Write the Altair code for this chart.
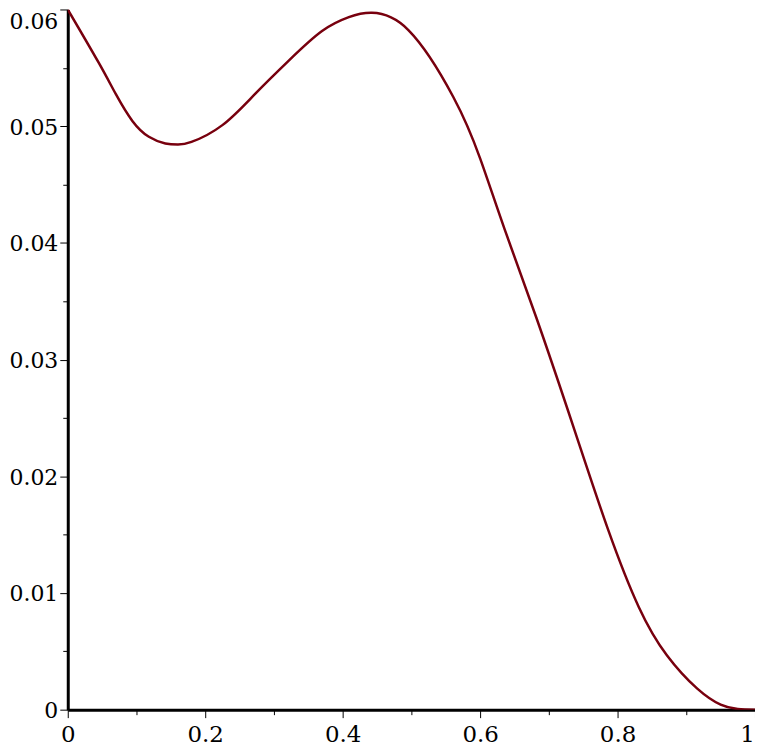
import altair as alt
import pandas as pd

xs = [0, 0.045, 0.070, 0.094, 0.118, 0.142, 0.160, 0.180, 0.225, 0.273,
      0.322, 0.370, 0.409, 0.4425, 0.496, 0.561, 0.600, 0.636, 0.682, 0.737,
      0.786, 0.831, 0.872, 0.916, 0.950, 0.975, 1.0]
ys = [0.0600, 0.05544, 0.05274, 0.05045, 0.04909, 0.04852, 0.04842, 0.04865, 0.05009, 0.05279,
      0.05564, 0.05815, 0.05934, 0.05971, 0.05821, 0.0525, 0.04724, 0.04111, 0.03356, 0.02402,
      0.01547, 0.00878, 0.00464, 0.0018, 0.00043, 0.00006, 0.0]

x_ticks = [0, 0.1, 0.2, 0.3, 0.4, 0.5, 0.6, 0.7, 0.8, 0.9, 1.0]
y_ticks = [0, 0.005, 0.01, 0.015, 0.02, 0.025, 0.03, 0.035, 0.04, 0.045, 0.05, 0.055, 0.06]

df = pd.DataFrame({"x": xs, "y": ys})

FONT = "DejaVu Serif"

x_axis = alt.Axis(
    values=x_ticks,
    labelExpr="abs(datum.value*5 - round(datum.value*5)) > 0.01 ? '' : format(datum.value, '.1~f')",
    labelOverlap=False,
    labelFont=FONT, labelFontSize=23, labelColor="black",
    labelPadding=6, labelFlush=False,
    labelOffset={"condition": {"test": "datum.value > 0.99", "value": -8}, "value": 0},
    domainColor="black", domainWidth=3,
    tickColor="black", tickWidth=1,
    tickSize={"condition": {"test": "abs(datum.value*5 - round(datum.value*5)) > 0.01", "value": 5}, "value": 8},
    grid=False, title=None,
)
y_axis = alt.Axis(
    values=y_ticks,
    labelExpr="abs(datum.value*100 - round(datum.value*100)) > 0.01 ? '' : format(datum.value, '.2~f')",
    labelOverlap=False,
    labelFont=FONT, labelFontSize=22, labelColor="black",
    labelPadding=2, labelFlush=False,
    labelOffset={"condition": {"test": "datum.value > 0.059", "value": 12}, "value": 1},
    domainColor="black", domainWidth=3,
    tickColor="black", tickWidth=1,
    tickSize={"condition": {"test": "abs(datum.value*100 - round(datum.value*100)) > 0.01", "value": 5}, "value": 8},
    grid=False, title=None,
)

chart = alt.Chart(df).mark_line(
    interpolate="natural", color="#78000E", strokeWidth=2.5, clip=True
).encode(
    x=alt.X("x:Q", scale=alt.Scale(domain=[0, 1], nice=False, zero=False), axis=x_axis),
    y=alt.Y("y:Q", scale=alt.Scale(domain=[0, 0.06], nice=False), axis=y_axis),
).properties(
    width=690, height=703,
    autosize=alt.AutoSizeParams(type="none"),
    padding={"left": 60, "top": 0, "right": 0, "bottom": 36},
).configure(background="white").configure_view(stroke=None)

chart.save("out.html", embed_options={"renderer": "svg", "actions": False})
